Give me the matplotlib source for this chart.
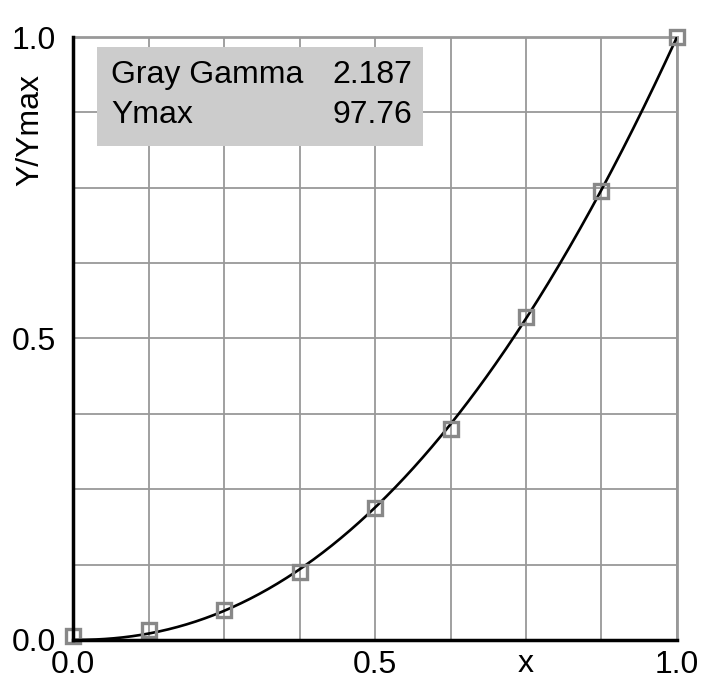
import numpy as np
import matplotlib
matplotlib.use("Agg")
import matplotlib.pyplot as plt
from matplotlib.patches import Rectangle

# measured points (normalised Y/Ymax)
x_meas = [0.0, 0.125, 0.25, 0.375, 0.5, 0.625, 0.75, 0.875, 1.0]
y_meas = [0.007, 0.016, 0.050, 0.113, 0.219, 0.350, 0.536, 0.745, 1.0]

# fit parameters shown in the box
gamma = 2.187
ymax = 97.76
box_labels = ["Gray Gamma", "Ymax"]
box_values = ["2.187", "97.76"]

x_ticks = [0.0, 0.5, 1.0]
tick_labels = ["0.0", "0.5", "1.0"]

plt.rcParams['font.family'] = ['Liberation Sans', 'DejaVu Sans']
fs = 23

fig = plt.figure(figsize=(7.13, 6.79), dpi=100)
ax = fig.add_axes([0.1024, 0.0575, 0.8471, 0.888])

grid_col = '#999999'
xs = np.linspace(0, 1, 400)
ax.plot(xs, xs ** gamma, color='black', lw=1.9, zorder=3)
ax.plot(x_meas, y_meas, ls='none', marker='s', ms=9.5, mfc='none',
        mec='#888888', mew=2.4, zorder=4, clip_on=False)

ax.set_xlim(0, 1)
ax.set_ylim(0, 1)
ax.set_xticks(np.arange(0, 1.001, 0.125), minor=True)
ax.set_yticks(np.arange(0, 1.001, 0.125), minor=True)
ax.set_xticks(x_ticks)
ax.set_yticks(x_ticks)
ax.set_xticklabels(tick_labels)
ax.set_yticklabels(tick_labels)
ax.grid(True, which='both', color=grid_col, lw=1.3, zorder=1)
ax.tick_params(which='both', length=0, labelsize=fs)
ax.tick_params(axis='x', pad=7)
ax.tick_params(axis='y', pad=12)

for s in ['left', 'bottom']:
    ax.spines[s].set_color('black')
    ax.spines[s].set_linewidth(2.5)
    ax.spines[s].set_zorder(5)
for s in ['top', 'right']:
    ax.spines[s].set_color(grid_col)
    ax.spines[s].set_linewidth(2.0)

ax.set_xlabel('x', fontsize=fs)
ax.xaxis.set_label_coords(0.75, -0.053)
ax.xaxis.label.set_va('baseline')
ax.set_ylabel('Y/Ymax', fontsize=fs)
ax.yaxis.set_label_coords(-0.071, 0.846)
ax.yaxis.label.set_va('center')

ax.add_patch(Rectangle((0.04, 0.82), 0.54, 0.163, transform=ax.transAxes,
                       facecolor='#cccccc', edgecolor='none', zorder=6))
row_y = [0.937, 0.871]
for lab, val, yy in zip(box_labels, box_values, row_y):
    ax.text(0.063, yy, lab, transform=ax.transAxes, fontsize=fs,
            va='center', ha='left', zorder=7)
    ax.text(0.561, yy, val, transform=ax.transAxes, fontsize=fs,
            va='center', ha='right', zorder=7)

fig.savefig('out.png', dpi=100)
